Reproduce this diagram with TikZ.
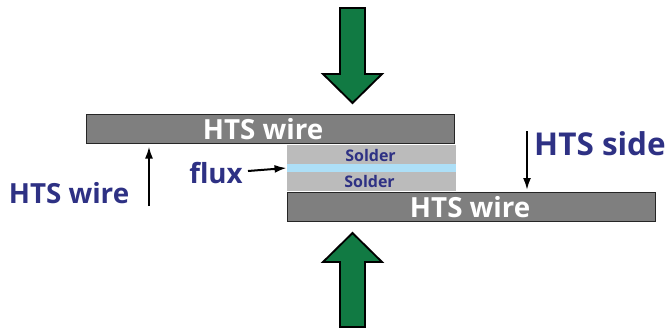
\documentclass[tikz,border=0pt]{standalone}
\usepackage{fontspec}
\setmainfont{Open Sans}
\usetikzlibrary{arrows.meta}
\definecolor{wiregray}{HTML}{7F7F7F}
\definecolor{soldergray}{HTML}{BBBBBB}
\definecolor{fluxblue}{HTML}{ADDFF7}
\definecolor{labelblue}{HTML}{2E3184}
\definecolor{pressgreen}{HTML}{117A43}
\tikzset{
  x=0.75pt,y=-0.75pt,
  wire/.style={draw=black!85,line width=0.8pt,fill=wiregray,minimum width=276.5pt,minimum height=21.8pt,inner sep=0pt,text=white,font=\bfseries\fontsize{20.8pt}{24pt}\selectfont},
  layer/.style={fill=soldergray,minimum width=127pt,inner sep=0pt,text=labelblue,font=\bfseries\fontsize{12pt}{14pt}\selectfont},
  tag/.style={inner sep=0pt,text=labelblue,font=\bfseries\fontsize{20.8pt}{24pt}\selectfont},
  bigtag/.style={inner sep=0pt,text=labelblue,font=\bfseries\fontsize{23.6pt}{27pt}\selectfont},
  press/.style={draw=black,line width=1.4pt,fill=pressgreen,miter limit=10},
  pointer/.style={-{Latex[length=9pt,width=6pt]},line width=1.5pt,black}
}
\begin{document}
\begin{tikzpicture}
\useasboundingbox (0,0) rectangle (668,329);
\node[layer,minimum height=15pt] (s1) at (371.5,155) {Solder\hspace*{1.5pt}};
\node[layer,minimum height=14.5pt] (s2) at (371.5,181.5) {Solder\hspace*{3pt}};
\node[fill=fluxblue,minimum width=127pt,minimum height=6pt,inner sep=0pt] (fx) at (371.5,168) {};
\node[wire] (w1) at (270.5,129) {HTS wire\hspace*{11pt}};
\node[wire] (w2) at (471.5,207) {HTS wire\hspace*{2pt}};
\draw[press] (340,8) -- (365,8) -- (365,74) -- (382,74) -- (352.5,103) -- (323,74) -- (340,74) -- cycle;
\draw[press] (340,327) -- (365,327) -- (365,262) -- (382,262) -- (352.5,233) -- (323,262) -- (340,262) -- cycle;
\node[tag] (t1) at (69,193) {HTS wire};
\node[bigtag] (t2) at (600,144) {HTS side};
\node[tag] (t3) at (216,173) {flux};
\coordinate (a1) at (149,206);
\coordinate (a2) at (527,131);
\draw[pointer] (a1) -- (149,146.5);
\draw[pointer] (a2) -- (527,190);
\draw[pointer] (t3.east)++(5,-2) -- (fx.west);
\end{tikzpicture}
\end{document}
